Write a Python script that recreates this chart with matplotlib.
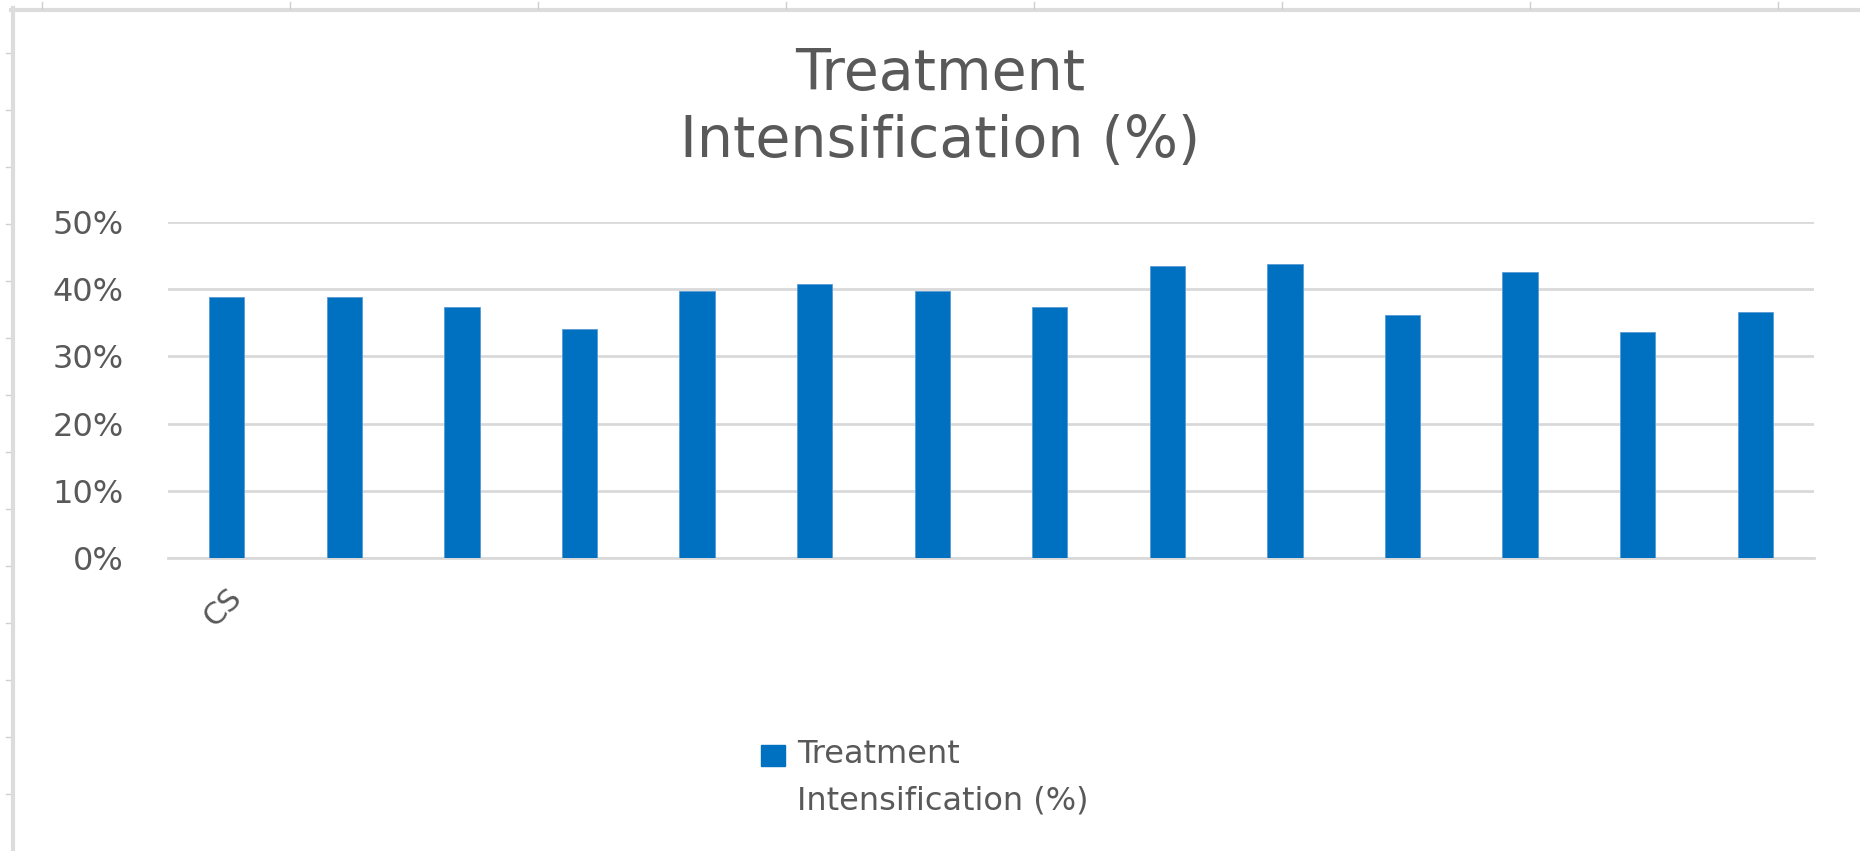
import numpy as np
from matplotlib import pyplot as plt
from matplotlib.lines import Line2D
from matplotlib.patches import Rectangle

plt.rcParams['font.family'] = ['DejaVu Sans']

# data
categories = ['CS', '', '', '', '', '', '', '', '', '', '', '', '', '']
values = [0.388, 0.388, 0.374, 0.341, 0.397, 0.407, 0.398, 0.374,
          0.434, 0.438, 0.362, 0.425, 0.336, 0.366]
y_ticks = [0.0, 0.1, 0.2, 0.3, 0.4, 0.5]
series_name = 'Treatment\nIntensification (%)'

W, H = 1860., 851.
bar_col = '#0070C0'
grid_col = '#d9d9d9'
txt_col = '#595959'

fig = plt.figure(figsize=(W/100, H/100), dpi=100)

# sheet border and ruler ticks around the chart area
fig.add_artist(Line2D([12.5/W, 12.5/W], [0, 1-8/H], color='#dcdcdc', lw=3))
fig.add_artist(Line2D([11/W, 1], [1-10/H, 1-10/H], color='#dcdcdc', lw=3))
for x in np.arange(41.5, W, 248):
	fig.add_artist(Line2D([x/W, x/W], [1-2/H, 1-9/H], color='#d0d0d0', lw=1))
for y in np.arange(53, H, 57):
	fig.add_artist(Line2D([6/W, 10/W], [1-y/H, 1-y/H], color='#d0d0d0', lw=1))

ax = fig.add_axes([168/W, 1-558/H, 1646/W, 336/H])
x = np.arange(len(values))
ax.bar(x, values, width=0.30, color=bar_col, edgecolor='#5b9bd5', linewidth=0.6, zorder=3)
ax.set_xlim(-0.5, len(values)-0.5)
ax.set_ylim(0, 0.5)
ax.set_yticks(y_ticks)
ax.set_yticklabels(['{:.0%}'.format(v) for v in y_ticks])
ax.yaxis.grid(True, color=grid_col, lw=2.0, zorder=0)
ax.set_xticks(x)
ax.set_xticklabels(categories, rotation=45, ha='right', va='top', rotation_mode='anchor')
for s in ['top', 'right', 'left']:
	ax.spines[s].set_visible(False)
ax.spines['bottom'].set_color(grid_col)
ax.spines['bottom'].set_linewidth(2.0)
ax.tick_params(axis='y', length=0, pad=32, labelsize=23, labelcolor=txt_col)
ax.tick_params(axis='x', length=0, pad=18, labelsize=22, labelcolor=txt_col)

fig.text(940/W, 1-108/H, 'Treatment\nIntensification (%)', ha='center', va='center',
	fontsize=41, color=txt_col, linespacing=1.3)

# legend drawn by hand so the key sits on the first line
fig.add_artist(Rectangle((761/W, 1-766/H), 24/W, 21/H, color=bar_col, transform=fig.transFigure))
fig.text(797/W, 1-778/H, series_name, ha='left', va='center', fontsize=23,
	color=txt_col, linespacing=1.65)

fig.savefig('out.png', dpi=100, facecolor='white')
